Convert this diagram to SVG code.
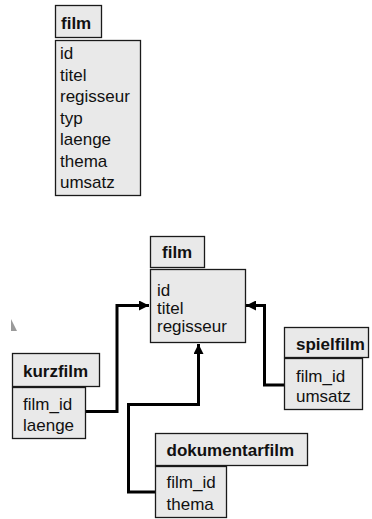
<svg xmlns="http://www.w3.org/2000/svg" width="372" height="519" viewBox="0 0 372 519">
  <defs>
    <style>
      .box { fill: #e9e9e9; stroke: #1a1a1a; stroke-width: 1.3; }
      .hd { font-family: "Liberation Sans", Arial, Helvetica, sans-serif; font-size: 17px; font-weight: bold; fill: #111; }
      .at { font-family: "Liberation Sans", Arial, Helvetica, sans-serif; font-size: 17px; fill: #111; }
      .link { fill: none; stroke: #000; stroke-width: 3; stroke-linejoin: miter; }
    </style>
    <marker id="arrow" viewBox="0 0 10 10" refX="10" refY="5" markerWidth="10" markerHeight="10" markerUnits="userSpaceOnUse" orient="auto">
      <path d="M0,0 L10,5 L0,10 Z" fill="#000"/>
    </marker>
  </defs>

  <rect width="372" height="519" fill="#ffffff"/>

  <!-- single-table model -->
  <g id="film-flat">
    <rect class="box" x="55.5" y="5.5" width="46" height="32"/>
    <text class="hd" x="61" y="29">film</text>
    <rect class="box" x="55.5" y="40.5" width="85" height="155"/>
    <text class="at" x="60" y="59">id</text>
    <text class="at" x="60" y="80.5">titel</text>
    <text class="at" x="60" y="102">regisseur</text>
    <text class="at" x="60" y="123.5">typ</text>
    <text class="at" x="60" y="145">laenge</text>
    <text class="at" x="60" y="166.5">thema</text>
    <text class="at" x="60" y="188">umsatz</text>
  </g>

  <!-- small stray mark -->
  <polygon points="11,319 17,331 11,331" fill="#9a9a9a"/>

  <!-- subtype connectors -->
  <g id="connectors">
    <path class="link" d="M86,411.5 H117 V305.5 H149" marker-end="url(#arrow)"/>
    <path class="link" d="M284,385 H264.5 V305.5 H246" marker-end="url(#arrow)"/>
    <path class="link" d="M155,492 H128.5 V404.5 H198.5 V344" marker-end="url(#arrow)"/>
  </g>

  <!-- supertype -->
  <g id="film">
    <rect class="box" x="150.5" y="236.5" width="54" height="31"/>
    <text class="hd" x="162" y="258">film</text>
    <rect class="box" x="150.5" y="269.5" width="95" height="73"/>
    <text class="at" x="157" y="296">id</text>
    <text class="at" x="157" y="314">titel</text>
    <text class="at" x="157" y="332">regisseur</text>
  </g>

  <g id="kurzfilm">
    <rect class="box" x="12.5" y="353.5" width="87" height="33"/>
    <text class="hd" x="23" y="376.5">kurzfilm</text>
    <rect class="box" x="12.5" y="387.5" width="73" height="51"/>
    <text class="at" x="23" y="410">film_id</text>
    <text class="at" x="23" y="431">laenge</text>
  </g>

  <g id="spielfilm">
    <rect class="box" x="284.5" y="327.5" width="84" height="30"/>
    <text class="hd" x="296" y="350">spielfilm</text>
    <rect class="box" x="284.5" y="358.5" width="78" height="51"/>
    <text class="at" x="296" y="382">film_id</text>
    <text class="at" x="296" y="402">umsatz</text>
  </g>

  <g id="dokumentarfilm">
    <rect class="box" x="155.5" y="433.5" width="152" height="32"/>
    <text class="hd" x="166.5" y="456">dokumentarfilm</text>
    <rect class="box" x="155.5" y="466.5" width="71" height="51"/>
    <text class="at" x="166.5" y="488">film_id</text>
    <text class="at" x="166.5" y="509.5">thema</text>
  </g>
</svg>
